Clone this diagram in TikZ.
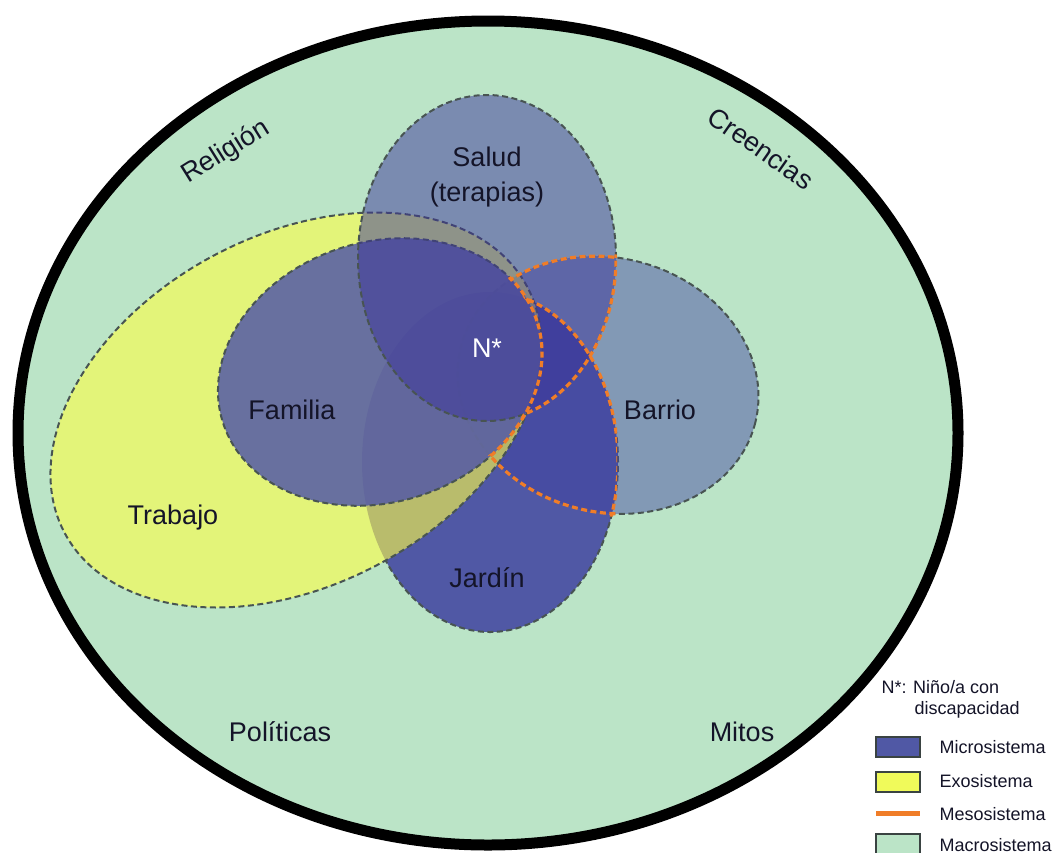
\documentclass[tikz,border=0pt]{standalone}
\usepackage{fontspec}
\setmainfont{Liberation Sans}
\begin{document}
\begin{tikzpicture}[x=1pt,y=1pt]
\definecolor{macro}{RGB}{187,228,199}
\definecolor{exo}{RGB}{255,255,70}
\definecolor{exoleg}{RGB}{240,250,90}
\definecolor{fam}{RGB}{83,89,166}
\definecolor{sal}{RGB}{59,52,154}
\definecolor{bar}{RGB}{62,62,160}
\definecolor{jar}{RGB}{80,88,165}
\definecolor{outl}{RGB}{72,84,82}
\definecolor{meso}{RGB}{240,125,40}
\definecolor{txt}{RGB}{20,20,40}
\tikzset{
  outline/.style={draw=outl, line width=2pt, dash pattern=on 6pt off 3.5pt},
  mesoline/.style={draw=meso, line width=3.2pt, dash pattern=on 6pt off 3.5pt},
  lbl/.style={font=\fontsize{27}{31}\selectfont, text=txt},
  leg/.style={font=\fontsize{18}{21}\selectfont, text=txt, anchor=west},
  legbox/.style={draw=outl!80!black, line width=1.5pt},
}
\useasboundingbox (0,0) rectangle (1062,-852);
\fill[white] (0,0) rectangle (1062,-852);
% Macrosistema
\draw[fill=macro, line width=11pt] (488,-433) ellipse [x radius=470, y radius=412];
% Jardin
\path[fill=jar] (490,-462) ellipse [x radius=128, y radius=170];
\begin{scope}
  \clip[rotate around={28:(296,-410)}] (-2000,2000) -- (3000,2000) -- (3000,-3000) -- (-2000,-3000) -- cycle (296,-410) ellipse [x radius=262, y radius=175];
  \path[outline] (490,-462) ellipse [x radius=128, y radius=170];
\end{scope}
% Barrio
\path[fill=bar, fill opacity=0.45, rotate around={-15:(608,-385)}] (608,-385) ellipse [x radius=152, y radius=127];
\path[outline, rotate around={-15:(608,-385)}] (608,-385) ellipse [x radius=152, y radius=127];
% Trabajo
\path[fill=exo, fill opacity=0.6, rotate around={28:(296,-410)}] (296,-410) ellipse [x radius=262, y radius=175];
\path[outline, rotate around={28:(296,-410)}] (296,-410) ellipse [x radius=262, y radius=175];
% Familia
\path[fill=fam, fill opacity=0.85, rotate around={18:(380,-372)}] (380,-372) ellipse [x radius=165, y radius=130];
\path[outline, rotate around={18:(380,-372)}] (380,-372) ellipse [x radius=165, y radius=130];
% Salud
\path[fill=sal, fill opacity=0.5] (487,-258) ellipse [x radius=129, y radius=163];
\path[outline] (487,-258) ellipse [x radius=129, y radius=163];
% Mesosistema
\begin{scope}
  \clip[rotate around={18:(380,-372)}] (-2000,2000) -- (3000,2000) -- (3000,-3000) -- (-2000,-3000) -- cycle (380,-372) ellipse [x radius=163, y radius=128];
  \clip[rotate around={-15:(608,-385)}] (608,-385) ellipse [x radius=155, y radius=130];
  \clip (0,0) rectangle (617,-852);
  \path[mesoline] (487,-258) ellipse [x radius=129, y radius=163];
  \path[mesoline] (490,-462) ellipse [x radius=128, y radius=170];
  \path[mesoline, rotate around={-15:(608,-385)}] (608,-385) ellipse [x radius=152, y radius=127];
  \path[mesoline, rotate around={18:(380,-372)}] (380,-372) ellipse [x radius=165, y radius=130];
\end{scope}
% Labels
\node[lbl] (salud) at (487,-157) {Salud};
\node[lbl] (terapias) at (487,-195) {(terapias)};
\node[lbl, text=white] (nino) at (487,-348) {N*};
\node[lbl] (familia) at (292,-410) {Familia};
\node[lbl] (barrio) at (660,-410) {Barrio};
\node[lbl] (trabajo) at (173,-518) {Trabajo};
\node[lbl] (jardin) at (487,-578) {Jardín};
\node[lbl, rotate=32] (religion) at (226,-152) {Religión};
\node[lbl, rotate=-35] (creencias) at (761,-148) {Creencias};
\node[lbl] (politicas) at (280,-732) {Políticas};
\node[lbl] (mitos) at (742,-732) {Mitos};
% Legend
\node[leg] (ninoleg) at (878,-687) {N*: Niño/a con};
\node[leg] (discap) at (911,-710) {discapacidad};
\path[legbox, fill=jar] (876,-737) rectangle (920,-757);
\node[leg] (micro) at (936,-747) {Microsistema};
\path[legbox, fill=exoleg] (876,-772) rectangle (920,-792);
\node[leg] (exo) at (936,-781) {Exosistema};
\draw[meso, line width=5pt] (876,-813) -- (920,-813);
\node[leg] (meso) at (936,-814) {Mesosistema};
\path[legbox, fill=macro] (876,-834) rectangle (920,-856);
\node[leg] (macro) at (936,-845) {Macrosistema};
\end{tikzpicture}
\end{document}
